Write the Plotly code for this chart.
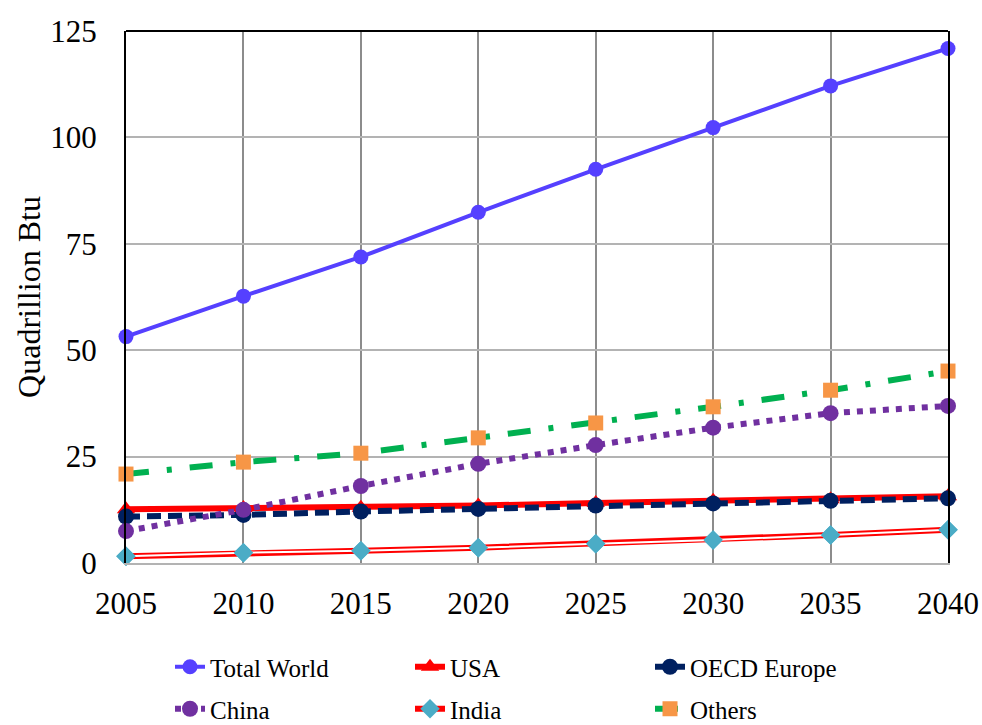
import plotly.graph_objects as go

years = [2005, 2010, 2015, 2020, 2025, 2030, 2035, 2040]
total_world = [53.2, 62.7, 71.9, 82.4, 92.5, 102.3, 112.1, 120.9]
usa = [12.6, 12.9, 13.0, 13.5, 14.1, 14.6, 15.0, 15.7]
oecd_europe = [10.9, 11.3, 12.1, 12.7, 13.5, 14.0, 14.6, 15.2]
china = [7.5, 12.5, 18.1, 23.3, 27.7, 31.8, 35.2, 36.9]
india = [1.6, 2.4, 2.9, 3.6, 4.5, 5.4, 6.6, 7.8]
others = [20.9, 23.7, 25.8, 29.4, 32.9, 36.7, 40.6, 45.1]

y_ticks = [0, 25, 50, 75, 100, 125]
x_ticks = [2005, 2010, 2015, 2020, 2025, 2030, 2035, 2040]

FONT = "Liberation Serif, Times New Roman, serif"

fig = go.Figure()

fig.add_trace(go.Scatter(
    x=years, y=total_world, name="Total World", mode="lines+markers",
    line=dict(color="#5540FF", width=4),
    marker=dict(symbol="circle", size=15, color="#5540FF"),
    cliponaxis=False, legend="legend"))

fig.add_trace(go.Scatter(
    x=years, y=usa, name="USA", mode="lines+markers",
    line=dict(color="#FF0000", width=6),
    marker=dict(symbol="triangle-up", size=16, color="#FF0000"),
    cliponaxis=False, legend="legend"))

fig.add_trace(go.Scatter(
    x=years, y=oecd_europe, name="OECD Europe", mode="lines+markers",
    line=dict(color="#002060", width=6, dash="14px,7px"),
    marker=dict(symbol="circle", size=16, color="#002060"),
    cliponaxis=False, legend="legend"))

fig.add_trace(go.Scatter(
    x=years, y=china, name="China", mode="lines+markers",
    line=dict(color="#7030A0", width=6, dash="6px,7px"),
    marker=dict(symbol="circle", size=16, color="#7030A0"),
    cliponaxis=False, legend="legend2"))

fig.add_trace(go.Scatter(
    x=years, y=india, name="India", mode="lines+markers",
    line=dict(color="#FF0000", width=6),
    marker=dict(symbol="diamond", size=15, color="#4BACC6"),
    cliponaxis=False, legend="legend2"))
fig.add_trace(go.Scatter(
    x=years, y=india, name="India", mode="lines+markers",
    line=dict(color="#FFFFFF", width=2),
    marker=dict(symbol="diamond", size=15, color="#4BACC6"),
    cliponaxis=False, showlegend=False, legend="legend2"))

fig.add_trace(go.Scatter(
    x=years, y=others, name="Others", mode="lines+markers",
    line=dict(color="#00B050", width=6, dash="23px,18px,5px,18px"),
    marker=dict(symbol="square", size=15, color="#F79646"),
    cliponaxis=False, legend="legend2"))

W, H = 982, 725
L, R, T, B = 126, 34, 31, 162

legend_common = dict(
    orientation="h", xanchor="left", yanchor="middle",
    xref="container", yref="container",
    font=dict(family=FONT, size=25, color="#000000"),
    entrywidth=195, entrywidthmode="pixels",
    bgcolor="rgba(0,0,0,0)", itemwidth=30,
)

fig.update_layout(
    width=W, height=H,
    margin=dict(l=L, r=R, t=T, b=B, autoexpand=False),
    paper_bgcolor="white", plot_bgcolor="white",
    font=dict(family=FONT, color="#000000"),
    legend=dict(x=170 / W, y=(H - 667) / H, **legend_common),
    legend2=dict(x=170 / W, y=(H - 709) / H, **legend_common),
    xaxis=dict(
        range=[2005, 2040], tickvals=x_ticks, ticktext=[str(v) for v in x_ticks],
        showgrid=True, gridcolor="#8C8C8C", gridwidth=2,
        showline=True, linecolor="#B3B3B3", linewidth=2,
        zeroline=False, ticks="", ticklabelstandoff=12, automargin=False,
        tickfont=dict(family=FONT, size=31, color="#000000"),
    ),
    yaxis=dict(
        range=[0, 125], tickvals=y_ticks,
        showgrid=True, gridcolor="#B3B3B3", gridwidth=2,
        showline=True, linecolor="#000000", linewidth=2, mirror=True,
        zeroline=False, ticks="", ticklabelstandoff=21, automargin=False,
        tickfont=dict(family=FONT, size=31, color="#000000"),
        title=dict(text="Quadrillion Btu", font=dict(family=FONT, size=32, color="#000000"), standoff=0),
    ),
    shapes=[dict(type="line", xref="paper", yref="paper", x0=0, x1=1, y0=1, y1=1,
                 line=dict(color="#000000", width=2))],
)

fig.write_html("out.html", config={"displayModeBar": False},
               post_script="document.body.style.margin='0';document.body.style.overflow='hidden';")
